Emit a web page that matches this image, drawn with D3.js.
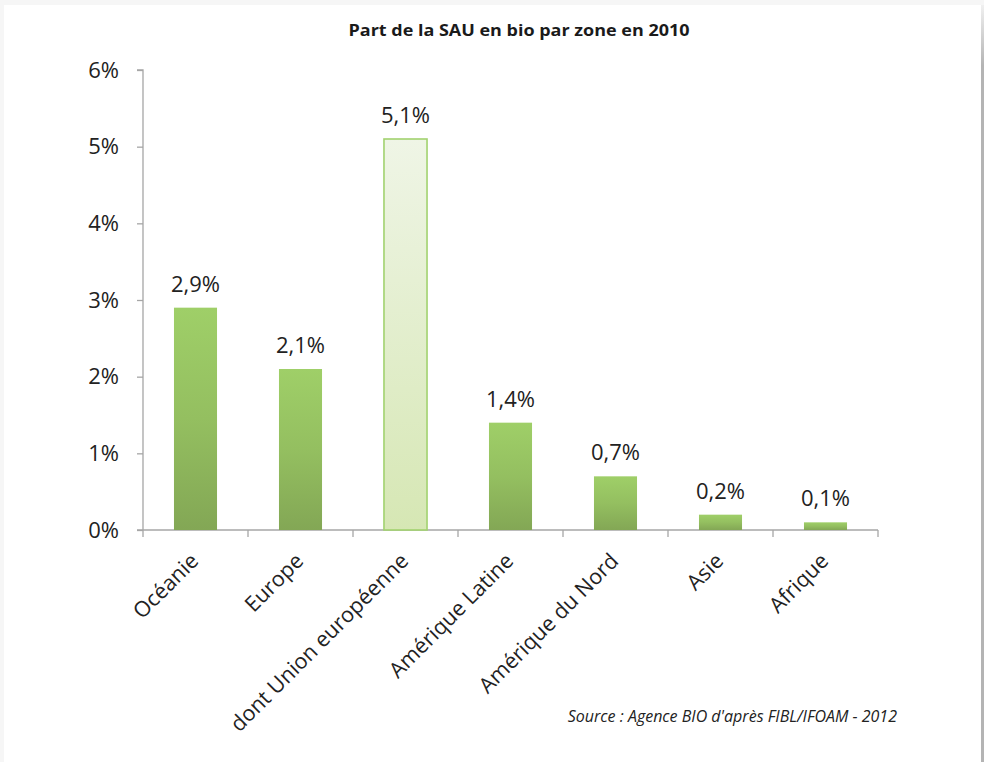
<!DOCTYPE html>
<html><head><meta charset="utf-8">
<script src="https://cdn.jsdelivr.net/npm/d3@7"></script>
<style>
html,body{margin:0;padding:0;background:#f6f6f6;}
svg{display:block;}
</style></head>
<body>
<svg id="chart" width="984" height="762"></svg>
<script>
const categories = ["Océanie","Europe","dont Union européenne","Amérique Latine","Amérique du Nord","Asie","Afrique"];
const values = [2.9, 2.1, 5.1, 1.4, 0.7, 0.2, 0.1];
const valueLabels = ["2,9%","2,1%","5,1%","1,4%","0,7%","0,2%","0,1%"];
const highlighted = ["dont Union européenne"];
const yTicks = [0,1,2,3,4,5,6];
const title = "Part de la SAU en bio par zone en 2010";
const source = "Source : Agence BIO d'après FIBL/IFOAM - 2012";

(function(){
const svg = d3.select("#chart");
const font = "'Open Sans', 'Noto Sans', sans-serif";

// panel
svg.append("rect").attr("x",0).attr("y",0).attr("width",984).attr("height",762).attr("fill","#f6f6f6");
svg.append("rect").attr("x",4).attr("y",5).attr("width",977).attr("height",757).attr("fill","#ffffff");
const defs = svg.append("defs");
const edge = defs.append("linearGradient").attr("id","edge").attr("x1",0).attr("y1",0).attr("x2",0).attr("y2",1);
edge.append("stop").attr("offset","0").attr("stop-color","#f0f0f0");
edge.append("stop").attr("offset","0.08").attr("stop-color","#b4b4b4");
edge.append("stop").attr("offset","1").attr("stop-color","#b4b4b4");
svg.append("rect").attr("x",981).attr("y",5).attr("width",3).attr("height",757).attr("fill","url(#edge)");

const g1 = defs.append("linearGradient").attr("id","barGrad").attr("x1",0).attr("y1",0).attr("x2",0).attr("y2",1);
g1.append("stop").attr("offset","0").attr("stop-color","#9fcf68");
g1.append("stop").attr("offset","0.5").attr("stop-color","#94bf60");
g1.append("stop").attr("offset","1").attr("stop-color","#83a755");
const g2 = defs.append("linearGradient").attr("id","hlGrad").attr("x1",0).attr("y1",0).attr("x2",0).attr("y2",1);
g2.append("stop").attr("offset","0").attr("stop-color","#eff5e6");
g2.append("stop").attr("offset","1").attr("stop-color","#d6e7b4");

const pLeft = 143, pRight = 878, pTop = 70, pBottom = 530;
const x = d3.scaleBand().domain(categories).range([pLeft, pRight]).paddingInner(0.59).paddingOuter(0.295);
const y = d3.scaleLinear().domain([0,6]).range([pBottom, pTop]);

// title
svg.append("text").attr("x",519).attr("y",36).attr("text-anchor","middle")
  .attr("font-family",font).attr("font-weight",700).attr("font-size",15.5).attr("fill","#1a1a1a")
  .attr("textLength",341).attr("lengthAdjust","spacingAndGlyphs").text(title);

// y axis
const yAxis = svg.append("g").attr("transform",`translate(${pLeft},0)`)
  .call(d3.axisLeft(y).tickValues(yTicks).tickFormat(d=>d+"%").tickSize(6).tickPadding(18));
yAxis.select(".domain").attr("stroke","#a6a6a6").attr("stroke-width",1.3).attr("d",`M-6,${pTop}H0V${pBottom}`);
yAxis.selectAll(".tick line").attr("stroke","#a6a6a6").attr("stroke-width",1.3);
yAxis.selectAll(".tick text").attr("font-family",font).attr("font-size",22).attr("fill","#222");

// x axis
const bounds = categories.map(c => x(c) - x.step()*x.paddingInner()/2).concat([pRight]);
const xAxisG = svg.append("g");
xAxisG.append("line").attr("x1",pLeft-6).attr("x2",pRight).attr("y1",pBottom).attr("y2",pBottom)
  .attr("stroke","#a6a6a6").attr("stroke-width",1.3);
xAxisG.selectAll("line.tk").data(bounds).join("line").attr("class","tk")
  .attr("x1",d=>d).attr("x2",d=>d).attr("y1",pBottom).attr("y2",pBottom+7)
  .attr("stroke","#a6a6a6").attr("stroke-width",1.3);

// bars
svg.selectAll("rect.bar").data(categories).join("rect").attr("class","bar")
  .attr("x",d=>x(d)).attr("width",x.bandwidth())
  .attr("y",(d,i)=>y(values[i])).attr("height",(d,i)=>y(0)-y(values[i]))
  .attr("fill",d=>highlighted.includes(d)?"url(#hlGrad)":"url(#barGrad)")
  .attr("stroke",d=>highlighted.includes(d)?"#a2d26f":"none")
  .attr("stroke-width",1.6);

// value labels
svg.selectAll("text.val").data(categories).join("text").attr("class","val")
  .attr("x",d=>x(d)+x.bandwidth()/2).attr("y",(d,i)=>y(values[i])-16)
  .attr("text-anchor","middle").attr("font-family",font).attr("font-size",22).attr("fill","#222")
  .text((d,i)=>valueLabels[i]);

// category labels
svg.selectAll("text.cat").data(categories).join("text").attr("class","cat")
  .attr("transform",d=>`translate(${x(d)+x.bandwidth()/2-1},${pBottom+27}) rotate(-45)`)
  .attr("text-anchor","end").attr("dy","0.35em")
  .attr("font-family",font).attr("font-size",21.5).attr("fill","#222").text(d=>d);

// source
svg.append("text").attr("x",897).attr("y",722).attr("text-anchor","end")
  .attr("font-family",font).attr("font-style","italic").attr("font-size",16).attr("fill","#222").text(source);
})();
</script>
</body></html>
